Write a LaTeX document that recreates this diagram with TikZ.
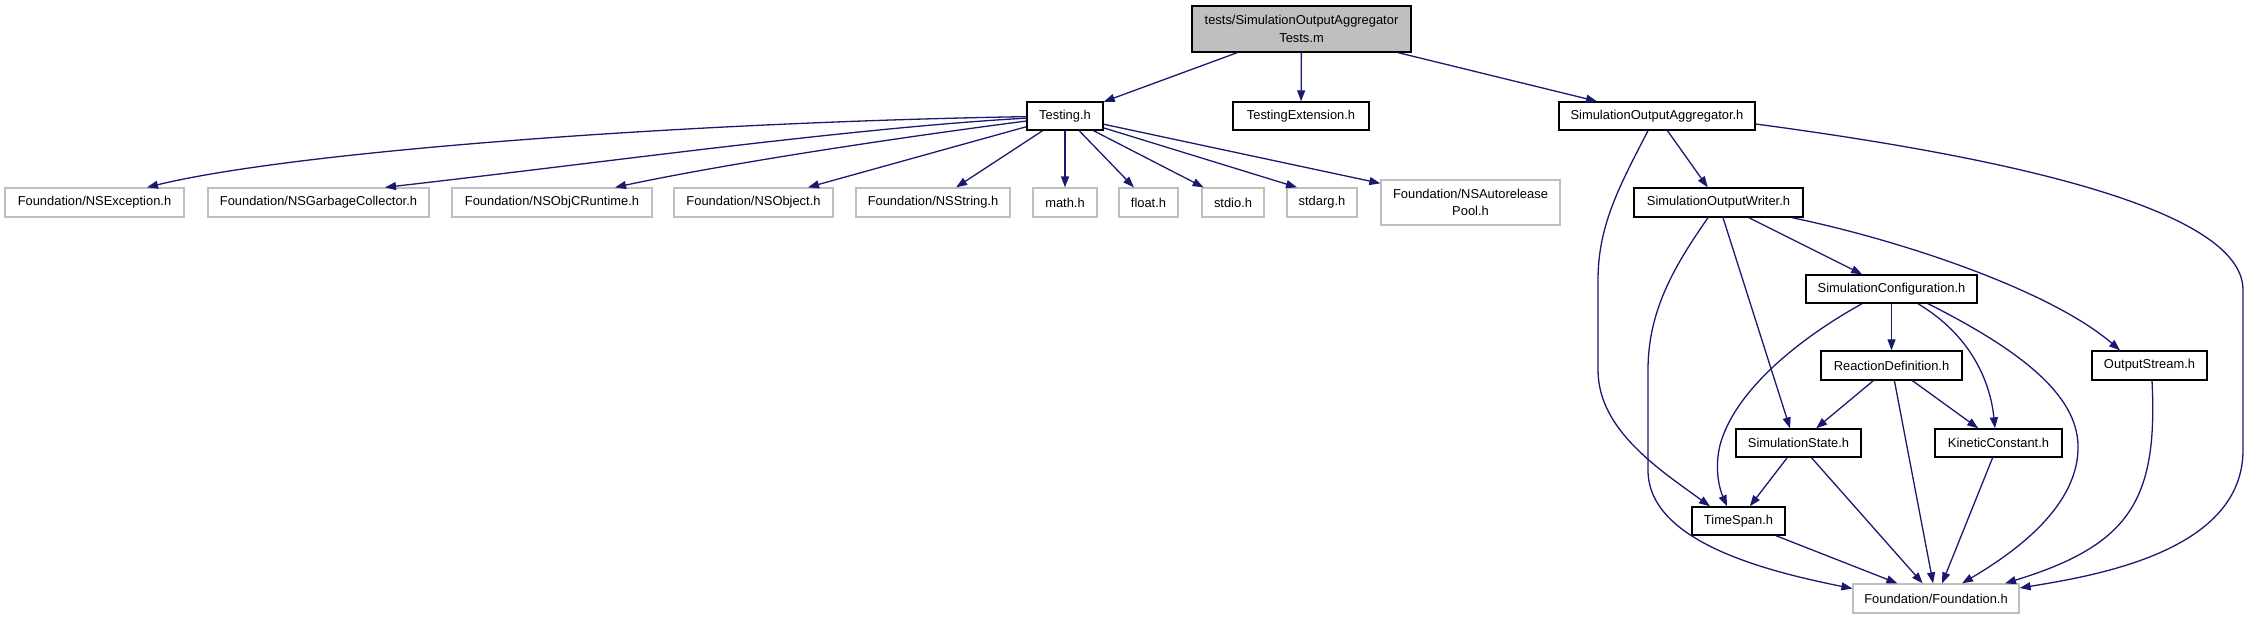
\documentclass[tikz,border=0pt]{standalone}
\usepackage{fontspec}
\setmainfont{Liberation Sans}
\usetikzlibrary{arrows.meta}
\definecolor{edgeblue}{HTML}{191970}
\definecolor{extgray}{HTML}{BFBFBF}
\definecolor{rootfill}{HTML}{BFBFBF}
\newcommand\nodefont{\fontsize{12.9}{17.5}\selectfont}
\tikzset{
  intnode/.style={draw=black, line width=1.4pt, fill=white, inner sep=0pt, font=\nodefont, align=center},
  rootnode/.style={intnode, fill=rootfill},
  extnode/.style={draw=extgray, line width=1.3pt, fill=white, inner sep=0pt, font=\nodefont, align=center},
  edge/.style={draw=edgeblue, line width=1.3pt, -{Triangle[length=11pt,width=8pt]}}
}
\begin{document}
\begin{tikzpicture}[x=1pt,y=-1pt]
\useasboundingbox (0,0) rectangle (2249,619);
% nodes
\node[rootnode, minimum width=219, minimum height=46] (root) at (1301.5,29) {tests/SimulationOutputAggregator\\Tests.m};
\node[intnode, minimum width=76, minimum height=28] (testing) at (1065,116) {Testing.h};
\node[intnode, minimum width=136, minimum height=28] (testext) at (1301,116) {TestingExtension.h};
\node[intnode, minimum width=196, minimum height=28] (soa) at (1657,116) {SimulationOutputAggregator.h};
\node[extnode, minimum width=179, minimum height=29] (nsexc) at (94.5,202.5) {Foundation/NSException.h};
\node[extnode, minimum width=221, minimum height=29] (nsgc) at (318.5,202.5) {Foundation/NSGarbageCollector.h};
\node[extnode, minimum width=200, minimum height=29] (nsobjc) at (552,202.5) {Foundation/NSObjCRuntime.h};
\node[extnode, minimum width=159, minimum height=29] (nsobj) at (753.5,202.5) {Foundation/NSObject.h};
\node[extnode, minimum width=154, minimum height=29] (nsstr) at (933,202.5) {Foundation/NSString.h};
\node[extnode, minimum width=64, minimum height=29] (mathh) at (1065,202.5) {math.h};
\node[extnode, minimum width=59, minimum height=29] (floath) at (1148.5,202.5) {float.h};
\node[extnode, minimum width=62, minimum height=29] (stdioh) at (1233,202.5) {stdio.h};
\node[extnode, minimum width=70, minimum height=29] (stdargh) at (1322,202.5) {stdarg.h};
\node[extnode, minimum width=179, minimum height=45] (nsauto) at (1470.5,202.5) {Foundation/NSAutorelease\\Pool.h};
\node[intnode, minimum width=169, minimum height=29] (sow) at (1718.5,202.5) {SimulationOutputWriter.h};
\node[intnode, minimum width=171, minimum height=28] (simconf) at (1891.5,289) {SimulationConfiguration.h};
\node[intnode, minimum width=141, minimum height=29] (reacdef) at (1891.5,365.5) {ReactionDefinition.h};
\node[intnode, minimum width=115, minimum height=29] (outstream) at (2149.5,365.5) {OutputStream.h};
\node[intnode, minimum width=125, minimum height=28] (simstate) at (1798.5,443) {SimulationState.h};
\node[intnode, minimum width=127, minimum height=28] (kinetic) at (1998.5,443) {KineticConstant.h};
\node[intnode, minimum width=93, minimum height=28] (timespan) at (1738.5,521) {TimeSpan.h};
\node[extnode, minimum width=166, minimum height=29] (found) at (1936,598.5) {Foundation/Foundation.h};
% root edges
\draw[edge] (root) -- (testing);
\draw[edge] (root) -- (testext);
\draw[edge] (root) -- (soa);
% Testing.h edges
\draw[edge] (testing) .. controls (700,122) and (300,150) .. ([xshift=52.5]nsexc.north);
\draw[edge] (testing) .. controls (850,128) and (600,163) .. ([xshift=66.5]nsgc.north);
\draw[edge] (testing) .. controls (880,140) and (720,165) .. ([xshift=63]nsobjc.north);
\draw[edge] (testing) -- (nsobj);
\draw[edge] (testing) -- (nsstr);
\draw[edge] (testing) -- (mathh);
\draw[edge] (testing) -- (floath);
\draw[edge] (testing) -- (stdioh);
\draw[edge] (testing) -- ([xshift=-25]stdargh.north);
\draw[edge] (testing) -- (nsauto);
% SimulationOutputAggregator.h edges
\draw[edge] (soa) -- (sow);
\draw[edge] ([xshift=-9]soa.south) .. controls (1620,185) and (1598,225) .. (1598,280) -- (1598,370) .. controls (1598,430) and (1660,470) .. ([xshift=-28.5]timespan.north);
\draw[edge] ([yshift=-8]soa.east) .. controls (1950,150) and (2243,200) .. (2243,290) -- (2243,450) .. controls (2243,550) and (2100,575) .. ([yshift=10.5]found.east);
% SimulationOutputWriter.h edges
\draw[edge] ([xshift=-10.5]sow.south) .. controls (1675,265) and (1648,310) .. (1648,370) -- (1648,470) .. controls (1648,540) and (1760,570) .. ([yshift=10]found.west);
\draw[edge] ([xshift=4.5]sow.south) -- ([xshift=-8.5]simstate.north);
\draw[edge] (sow) -- (simconf);
\draw[edge] ([xshift=73.5]sow.south) .. controls (1900,240) and (2050,290) .. ([xshift=-29.5]outstream.north);
% SimulationConfiguration.h edges
\draw[edge] (simconf) -- (reacdef);
\draw[edge] ([xshift=-29.5]simconf.south) .. controls (1800,338) and (1735,390) .. (1720,445) .. controls (1714,470) and (1720,490) .. ([xshift=-11.5]timespan.north);
\draw[edge] ([xshift=26.5]simconf.south) .. controls (1970,335) and (1990,380) .. ([xshift=-3.5]kinetic.north);
\draw[edge] ([xshift=36.5]simconf.south) .. controls (2030,355) and (2080,400) .. (2078,450) .. controls (2076,510) and (2010,555) .. ([xshift=26]found.north);
% ReactionDefinition.h edges
\draw[edge] (reacdef) -- (simstate);
\draw[edge] (reacdef) -- (found);
\draw[edge] (reacdef) -- (kinetic);
% others
\draw[edge] ([xshift=2.5]outstream.south) .. controls (2158,500) and (2130,545) .. ([xshift=69]found.north);
\draw[edge] (kinetic) -- (found);
\draw[edge] (simstate) -- (timespan);
\draw[edge] (simstate) -- (found);
\draw[edge] (timespan) -- (found);
\end{tikzpicture}
\end{document}
